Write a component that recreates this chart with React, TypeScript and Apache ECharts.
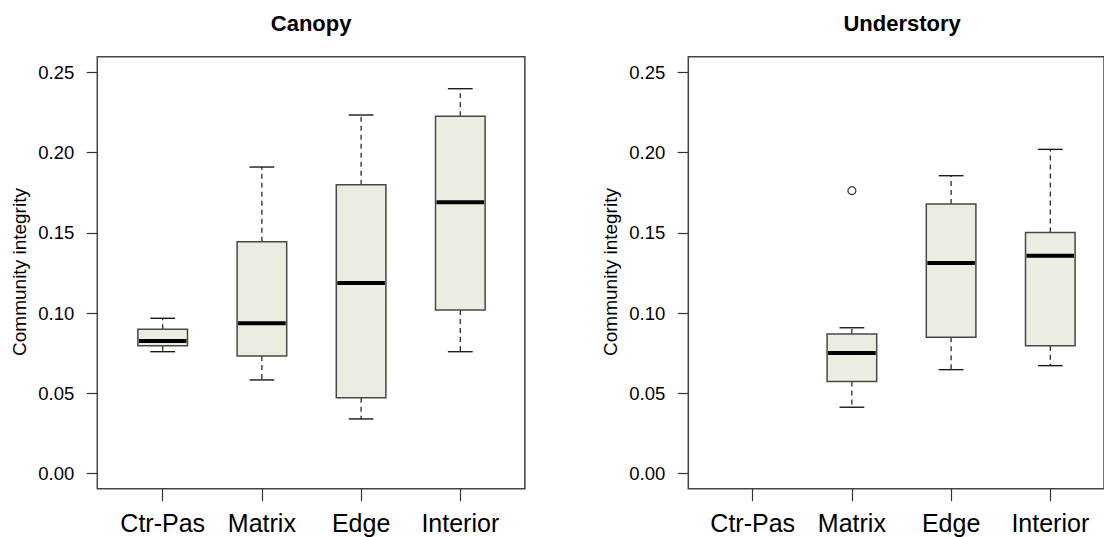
import React, { useEffect, useRef } from "react";
import * as echarts from "echarts";

// ---- data ----
const categories = ["Ctr-Pas", "Matrix", "Edge", "Interior"];
const yTicks = { min: 0, max: 0.25, step: 0.05 };

// Canopy panel: five-number summaries per category
const canopyMin = [0.076, 0.0584, 0.0341, 0.076];
const canopyQ1 = [0.0797, 0.0733, 0.0473, 0.102];
const canopyMedian = [0.0826, 0.0937, 0.1188, 0.169];
const canopyQ3 = [0.0899, 0.1445, 0.18, 0.2226];
const canopyMax = [0.0968, 0.191, 0.2234, 0.2398];

// Understory panel (no Ctr-Pas data)
const underMin = [null, 0.0414, 0.0648, 0.0673];
const underQ1 = [null, 0.0575, 0.085, 0.0797];
const underMedian = [null, 0.0752, 0.1312, 0.1358];
const underQ3 = [null, 0.087, 0.168, 0.1503];
const underMax = [null, 0.0909, 0.1856, 0.202];
const underOutliers: [string, number][] = [["Matrix", 0.1763]];

const panelTitles = ["Canopy", "Understory"];
const yAxisTitle = "Community integrity";

const FONT = "'Liberation Sans', Arial, sans-serif";

function buildBoxData(mins: any[], q1s: any[], meds: any[], q3s: any[], maxs: any[]) {
  const out: number[][] = [];
  categories.forEach((_, i) => {
    if (meds[i] == null) return;
    out.push([i, mins[i], q1s[i], meds[i], q3s[i], maxs[i]]);
  });
  return out;
}

const renderBox = (params: any, api: any) => {
  const idx = api.value(0);
  const pLow = api.coord([idx, api.value(1)]);
  const pQ1 = api.coord([idx, api.value(2)]);
  const pMed = api.coord([idx, api.value(3)]);
  const pQ3 = api.coord([idx, api.value(4)]);
  const pHigh = api.coord([idx, api.value(5)]);
  const band = api.size([1, 0])[0];
  const hw = band * 0.25;
  const cw = band * 0.125;
  const x = pMed[0];
  const dash = { stroke: "#1a1a1a", lineWidth: 1.2, lineDash: [5, 4] };
  const solid = { stroke: "#1a1a1a", lineWidth: 1.4 };
  return {
    type: "group",
    children: [
      { type: "line", shape: { x1: x, y1: pQ3[1], x2: x, y2: pHigh[1] }, style: dash },
      { type: "line", shape: { x1: x, y1: pQ1[1], x2: x, y2: pLow[1] }, style: dash },
      { type: "line", shape: { x1: x - cw, y1: pHigh[1], x2: x + cw, y2: pHigh[1] }, style: solid },
      { type: "line", shape: { x1: x - cw, y1: pLow[1], x2: x + cw, y2: pLow[1] }, style: solid },
      {
        type: "rect",
        shape: { x: x - hw, y: pQ3[1], width: hw * 2, height: pQ1[1] - pQ3[1] },
        style: { fill: "#ECECE0", stroke: "#484848", lineWidth: 1.5 },
      },
      {
        type: "line",
        shape: { x1: x - hw + 1, y1: pMed[1], x2: x + hw - 1, y2: pMed[1] },
        style: { stroke: "#000", lineWidth: 4 },
      },
    ],
  };
};

export default function App() {
  const ref = useRef<HTMLDivElement>(null);
  useEffect(() => {
    if (!ref.current) return;
    const chart = echarts.init(ref.current, null, { renderer: "svg" });

    const frameTop = 56.7;
    const frameH = 432;
    const frameW = 427.6;
    const frames = [97.3, 688.3];
    const dataLefts = [113.1, 703.1];
    const dataTop = 72.3;
    const dataH = 401.4;
    const dataW = 396.8;

    const grids: any[] = [];
    const xAxes: any[] = [];
    const yAxes: any[] = [];
    frames.forEach((fl, p) => {
      grids.push({
        left: fl,
        top: frameTop,
        width: frameW,
        height: frameH,
        show: true,
        borderColor: "#444",
        borderWidth: 1.5,
        backgroundColor: "transparent",
      });
      grids.push({ left: dataLefts[p], top: dataTop, width: dataW, height: dataH });
      xAxes.push({ type: "value", gridIndex: p * 2, show: false, min: 0, max: 1 });
      yAxes.push({ type: "value", gridIndex: p * 2, show: false, min: 0, max: 1 });
      xAxes.push({
        type: "category",
        gridIndex: p * 2 + 1,
        data: categories,
        boundaryGap: true,
        offset: 15,
        axisLine: { show: false, onZero: false },
        axisTick: {
          show: true,
          inside: false,
          alignWithLabel: true,
          length: 12.5,
          lineStyle: { color: "#333", width: 1.2 },
        },
        axisLabel: { fontSize: 25, margin: 22, color: "#000", fontFamily: FONT, interval: 0 },
        splitLine: { show: false },
      });
      yAxes.push({
        type: "value",
        gridIndex: p * 2 + 1,
        min: yTicks.min,
        max: yTicks.max,
        interval: yTicks.step,
        offset: dataLefts[p] - fl,
        axisLine: { show: false, onZero: false },
        axisTick: { show: true, length: 10.6, lineStyle: { color: "#333", width: 1.2 } },
        axisLabel: {
          fontSize: 18.5,
          margin: 23,
          color: "#000",
          fontFamily: FONT,
          formatter: (v: number) => v.toFixed(2),
        },
        splitLine: { show: false },
      });
    });

    const option: any = {
      animation: false,
      backgroundColor: "#fff",
      grid: grids,
      xAxis: xAxes,
      yAxis: yAxes,
      graphic: [
        ...panelTitles.map((t, p) => ({
          type: "text",
          x: frames[p] + frameW / 2,
          y: 23,
          style: {
            text: t,
            font: `bold 22px ${FONT}`,
            fill: "#000",
            textAlign: "center",
            textVerticalAlign: "middle",
          },
        })),
        ...frames.map((fl) => ({
          type: "text",
          x: fl - 78,
          y: 272,
          rotation: Math.PI / 2,
          style: {
            text: yAxisTitle,
            font: `19px ${FONT}`,
            fill: "#000",
            textAlign: "center",
            textVerticalAlign: "middle",
          },
        })),
      ],
      series: [
        {
          type: "custom",
          xAxisIndex: 1,
          yAxisIndex: 1,
          renderItem: renderBox,
          encode: { x: 0, y: [1, 2, 3, 4, 5] },
          data: buildBoxData(canopyMin, canopyQ1, canopyMedian, canopyQ3, canopyMax),
          clip: false,
        },
        {
          type: "custom",
          xAxisIndex: 3,
          yAxisIndex: 3,
          renderItem: renderBox,
          encode: { x: 0, y: [1, 2, 3, 4, 5] },
          data: buildBoxData(underMin, underQ1, underMedian, underQ3, underMax),
          clip: false,
        },
        {
          type: "scatter",
          xAxisIndex: 3,
          yAxisIndex: 3,
          symbol: "circle",
          symbolSize: 8,
          itemStyle: { color: "#fff", borderColor: "#000", borderWidth: 1.2 },
          data: underOutliers,
        },
      ],
    };
    chart.setOption(option);
    return () => chart.dispose();
  }, []);

  return (
    <div
      ref={ref}
      style={{ position: "fixed", left: 0, top: 0, width: 1104, height: 537, background: "#fff" }}
    />
  );
}
